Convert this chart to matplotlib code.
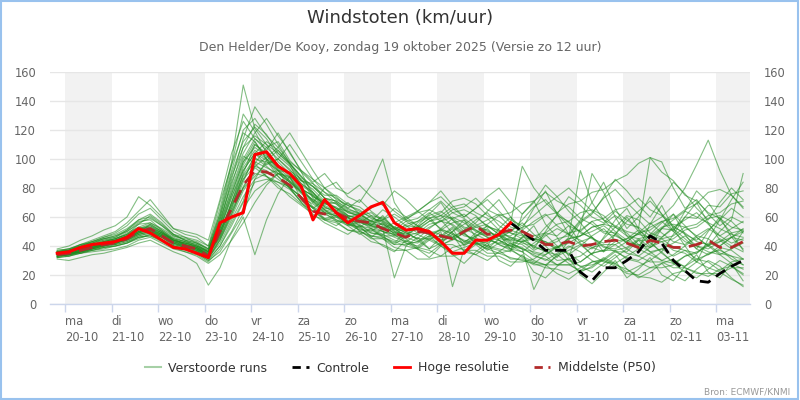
import matplotlib
matplotlib.use('Agg')
import matplotlib.pyplot as plt
import numpy as np
from matplotlib.lines import Line2D
from matplotlib.patches import Rectangle

plt.rcParams['font.family'] = ['DejaVu Sans']

# ---------------- data ----------------
day_labels = ['ma\n20-10', 'di\n21-10', 'wo\n22-10', 'do\n23-10', 'vr\n24-10',
              'za\n25-10', 'zo\n26-10', 'ma\n27-10', 'di\n28-10', 'wo\n29-10',
              'do\n30-10', 'vr\n31-10', 'za\n01-11', 'zo\n02-11', 'ma\n03-11']
first_time = -0.167   # days after 20-10 00:00 of the first value
time_step = 0.25      # 6-hourly

hires = [35, 36, 39, 41, 42, 43, 46, 52, 49, 44,
         39, 38, 35, 32, 56, 60, 63, 103, 105, 95,
         90, 81, 58, 72, 63, 56, 61, 67, 70, 56,
         51, 52, 50, 43, 35, 35, 44, 44, 48, 56]

control = [56, 50, 44, 37, 37, 37, 22, 16, 25, 25,
           30, 36, 47, 42, 30, 23, 16, 15, 21, 26, 30]   # starts at step 39

p50 = [34, 35, 37, 39, 41, 42, 45, 50, 52, 47,
       42, 40, 38, 33, 50, 66, 82, 92, 91, 87,
       82, 73, 64, 62, 63, 59, 57, 56, 52, 49,
       46, 50, 49, 47, 45, 50, 54, 48, 49, 51,
       50, 46, 41, 41, 43, 40, 41, 43, 44, 42,
       39, 44, 42, 39, 39, 41, 44, 39, 39, 43]

m01 = [36,37,41,42,45,46,51,57,58,51, 45,43,39,35,58,82,108,124,117,104,
       96,80,71,65,63,59,58,54,61,52, 47,56,60,51,46,51,58,63,54,49,
       47,44,53,61,57,49,46,39,38,43, 49,56,49,43,41,47,52,47,42,45]
m02 = [33,34,36,38,40,41,43,47,49,46, 40,38,36,31,40,56,71,97,108,112,
       99,91,74,69,70,63,61,63,57,50, 43,42,47,51,56,58,51,46,41,38,
       36,30,27,33,37,41,34,29,28,33, 38,43,35,29,26,31,34,38,31,27]
m03 = [35,36,38,40,43,45,48,55,61,55, 48,44,40,36,63,96,131,119,104,93,
       85,77,72,65,60,57,52,49,48,44, 42,40,46,52,59,62,55,50,47,44,
       51,57,62,54,48,41,38,45,53,61, 58,49,46,53,58,63,55,47,52,57]
m04 = [34,35,37,39,41,43,46,49,51,48, 43,41,39,34,47,70,89,101,95,88,
       80,70,61,58,56,51,50,47,46,43, 40,38,35,41,44,49,42,38,35,32,
       30,28,25,24,21,25,29,30,26,21, 20,25,28,31,25,22,19,24,26,21]
m05 = [32,33,35,37,38,40,42,45,48,44, 40,37,35,30,36,49,62,86,99,106,
       97,88,81,73,71,66,62,57,65,60, 54,53,48,46,45,42,49,54,50,46,
       42,40,47,52,48,44,39,36,41,45, 48,53,57,50,43,40,38,43,46,50]
m06 = [37,38,40,43,46,49,54,62,66,58, 50,46,42,38,66,98,151,121,110,98,
       90,80,70,64,62,58,56,61,54,50, 48,52,57,61,54,48,44,42,47,50,
       58,67,72,63,56,50,45,42,48,57, 64,71,62,54,48,44,51,58,66,60]
m07 = [36,37,39,41,42,44,47,52,55,50, 44,42,40,37,55,86,114,136,124,110,
       97,88,77,70,66,61,58,54,50,48, 53,57,61,64,58,52,48,44,42,46,
       44,40,36,34,39,43,46,40,36,32, 30,35,38,42,47,40,36,34,38,42]
m08 = [33,35,37,39,40,42,44,48,50,47, 42,39,36,32,45,62,81,95,101,108,
       118,105,92,80,72,68,64,60,56,52, 50,48,53,57,60,56,50,46,44,40,
       38,36,34,39,42,47,50,54,48,42, 38,34,30,28,33,36,40,45,40,36]
m09 = [35,36,38,41,43,45,48,52,54,50, 45,43,41,36,52,73,96,110,104,96,
       88,80,74,70,66,64,62,66,71,64, 58,54,50,48,46,50,54,58,62,58,
       54,61,68,74,80,72,64,58,54,50, 48,46,52,58,64,60,56,52,48,46]
m10 = [34,35,36,38,40,42,45,50,52,48, 44,42,40,36,50,68,86,95,92,86,
       80,74,66,62,58,56,54,52,50,48, 46,43,47,40,36,39,42,45,41,37,
       33,29,27,21,17,23,25,31,27,24, 19,18,15,21,23,29,25,22,17,13]
m11 = [36,38,41,44,47,50,56,64,72,62, 52,48,46,40,70,96,118,112,100,95,
       90,85,83,77,73,68,65,59,57,53, 59,63,65,71,63,59,53,51,45,44,
       43,47,49,55,57,63,65,61,53,49, 41,39,43,45,51,53,59,61,57,49]
m12 = [33,34,36,38,39,40,42,46,48,44, 40,38,36,32,42,58,74,86,90,92,
       91,83,77,67,63,57,55,49,47,41, 41,43,49,51,49,43,41,35,35,37,
       43,45,43,37,35,29,35,37,43,45, 51,45,43,37,35,29,35,37,33,31]
m13 = [35,37,40,42,44,46,50,55,56,52, 47,45,43,38,56,78,100,114,108,100,
       93,83,77,67,63,55,51,45,45,41, 47,49,55,57,63,65,61,53,51,45,
       43,37,41,43,49,51,57,59,65,67, 73,65,61,53,49,43,41,43,49,51]
m14 = [34,35,37,39,41,42,44,47,49,46, 42,40,38,33,46,64,84,104,112,106,
       97,85,79,71,69,63,61,55,53,47, 45,39,37,33,33,35,41,43,49,43,
       41,35,33,27,27,29,35,37,37,31, 29,25,25,27,33,35,41,35,33,27]
m15 = [32,33,35,36,37,38,40,44,46,42, 38,36,33,28,34,44,56,70,82,90,
       87,79,75,69,67,61,59,54,53,49, 49,45,45,41,41,37,37,33,33,29,
       29,31,37,39,45,47,53,55,61,55, 53,47,45,39,37,31,29,23,29,31]
m16 = [36,37,39,42,45,47,51,58,62,56, 48,44,42,38,60,90,112,122,114,102,
       95,85,81,75,75,69,67,61,59,53, 51,51,57,59,65,67,73,65,61,53,
       51,45,43,39,45,47,53,55,53,47, 45,39,45,47,53,55,61,63,69,71]
m17 = [35,36,38,40,42,44,47,52,53,49, 44,42,40,35,50,68,88,98,94,90,
       84,78,72,68,64,60,56,54,52,56, 60,64,58,52,48,44,42,40,38,36,
       62,71,55,46,33,52,90,77,60,47, 38,55,68,52,40,29,45,58,49,37]
m18 = [34,36,38,40,42,44,46,50,52,49, 44,41,39,34,54,76,98,108,102,94,
       87,77,71,63,61,57,57,53,53,49, 55,57,63,57,55,49,53,55,61,63,
       69,71,77,71,67,59,55,49,47,43, 49,51,57,59,65,69,77,79,75,67]
m19 = [33,34,36,38,40,42,44,48,50,46, 41,39,37,32,44,60,78,90,88,84,
       79,71,67,59,57,51,49,43,41,37, 37,39,45,47,53,47,45,39,37,31,
       31,27,27,27,31,33,39,41,41,35, 33,29,29,25,25,21,21,21,25,25]
m20 = [37,38,41,43,46,48,52,58,60,54, 47,44,42,37,58,84,104,118,128,116,
       105,91,83,73,69,61,59,55,55,51, 57,59,65,61,59,53,51,47,47,47,
       53,55,61,63,69,71,77,79,85,89, 97,101,91,85,75,71,63,59,53,51]
m21 = [35,36,38,40,42,43,46,50,51,48, 43,40,38,34,48,66,86,100,98,92,
       85,79,75,66,65,60,62,57,58,52, 54,49,50,44,46,41,43,37,42,40,
       46,44,49,47,54,50,57,50,49,42, 41,36,38,33,37,35,42,40,46,44]
m22 = [34,35,37,39,41,43,45,49,51,47, 42,40,38,33,50,70,94,106,100,92,
       84,77,67,63,57,56,51,51,47,47, 51,53,59,61,67,69,63,59,51,49,
       45,39,37,30,31,26,27,30,36,36, 44,44,52,51,60,59,68,67,76,78]
m23 = [33,34,36,37,39,41,43,46,47,44, 40,38,35,30,40,54,70,84,86,84,
       81,73,69,63,61,55,53,47,45,39, 37,31,31,33,39,41,47,49,47,41,
       39,33,31,27,27,23,29,31,37,39, 45,47,53,55,53,47,45,39,37,31]
m24 = [36,37,39,41,43,45,48,53,56,51, 46,43,41,36,60,88,108,116,110,104,
       97,87,81,73,71,65,63,57,55,51, 51,53,59,63,71,73,69,61,57,51,
       48,44,41,45,47,57,63,73,79,70, 62,55,60,68,80,96,113,92,75,66]
m25 = [31,30,32,34,35,37,39,42,44,40, 36,33,28,13,25,45,60,34,58,76,
       88,72,66,58,54,60,50,46,52,18, 40,46,38,42,48,36,34,40,44,38,
       32,28,34,40,30,26,22,28,34,24, 18,22,28,20,16,24,30,26,18,12]
m26 = [38,40,44,47,51,54,60,74,68,60, 52,50,48,44,72,104,126,114,106,118,
       104,92,86,80,84,74,70,82,100,70, 58,64,70,74,66,60,66,72,64,56,
       95,80,70,62,74,68,60,56,64,58, 52,101,98,80,66,72,62,54,60,56]
m27 = [35,34,37,40,41,44,47,51,53,49, 45,41,37,33,54,80,102,97,88,80,
       76,69,64,59,61,55,53,58,50,46, 43,48,44,40,45,49,42,38,45,50,
       56,48,42,38,46,92,70,58,50,44, 40,48,56,62,54,46,40,50,58,90]
m28 = [33,36,35,38,42,41,46,50,52,48, 43,40,38,35,46,64,80,88,97,100,
       92,86,73,65,58,54,57,52,48,53, 49,45,52,58,49,43,47,52,44,40,
       36,42,48,40,34,40,47,52,44,38, 33,39,46,52,45,38,34,40,46,52]
m29 = [34,33,36,39,40,43,45,49,55,50, 44,41,39,36,52,74,92,104,96,100,
       110,98,86,77,70,64,60,55,58,62, 57,52,48,44,50,55,60,54,48,42,
       38,34,30,35,40,36,30,26,32,38, 44,36,30,34,40,46,40,34,28,24]
m30 = [36,35,39,41,44,45,49,53,50,46, 41,39,37,34,48,66,90,110,103,92,
       80,74,66,72,66,60,54,50,56,48, 42,38,44,50,12,38,34,30,36,42,
       38,10,26,34,28,22,26,32,28,22, 26,30,36,28,22,18,24,30,26,20]
m31 = [34,36,38,40,43,44,47,51,54,49, 44,42,39,34,52,76,98,112,100,90,
       84,76,70,80,74,66,72,64,58,66, 60,54,62,70,58,50,56,64,72,60,
       52,66,78,62,48,58,70,84,66,52, 60,74,62,50,64,78,70,58,72,84]
m32 = [33,35,36,39,41,42,45,49,51,47, 42,39,37,31,44,62,80,94,88,82,
       74,68,62,56,52,48,54,46,40,36, 44,38,32,40,34,28,36,42,30,26,
       34,22,18,26,32,20,14,22,30,18, 24,32,20,16,26,34,22,18,28,16]
m33 = [36,37,40,43,45,47,50,56,59,54, 48,46,44,40,62,92,120,128,116,108,
       98,92,84,90,80,76,82,74,68,78, 72,64,70,78,68,60,66,74,80,70,
       62,70,82,74,64,56,62,74,86,78, 68,60,72,84,76,66,58,70,80,72]
m34 = [35,36,37,39,42,43,45,48,50,47, 43,41,38,33,49,70,92,104,99,88,
       80,70,64,58,60,54,48,52,46,42, 50,44,38,46,52,40,46,54,48,38,
       46,54,40,32,44,56,46,36,48,60, 50,40,52,62,48,38,50,60,46,38]
m35 = [32,34,35,37,39,40,42,46,47,43, 39,36,34,29,38,50,66,78,84,90,
       88,82,76,70,64,70,62,56,60,52, 46,54,48,42,50,58,46,40,52,60,
       48,38,50,62,54,42,34,46,58,66, 52,42,36,48,60,70,56,44,38,50]

members = [m01, m02, m03, m04, m05, m06, m07, m08, m09, m10,
           m11, m12, m13, m14, m15, m16, m17, m18, m19, m20,
           m21, m22, m23, m24, m25, m26, m27, m28, m29, m30,
           m31, m32, m33, m34, m35]

y_ticks = [0, 20, 40, 60, 80, 100, 120, 140, 160]

# ---------------- figure ----------------
fig = plt.figure(figsize=(8, 4), dpi=100)
fig.patch.set_facecolor('white')
ax = fig.add_axes([50/800, 96/400, 700/800, 232/400])

px_per_day = 46.5
ax.set_xlim(-15/px_per_day, 685/px_per_day)
ax.set_ylim(0, 160)

# alternating day shading
for d in range(0, len(day_labels), 2):
    ax.axvspan(d, d + 1, color='#f2f2f2', lw=0, zorder=0)

times = first_time + time_step * np.arange(len(p50))

for m in members:
    ax.plot(times[:len(m)], m, color='#1e8a1e', alpha=0.55, lw=0.8, zorder=2)

ax.plot(times[len(hires)-1:len(hires)-1+len(control)], control, color='black',
        lw=2, dashes=(4, 2.5), zorder=4)
ax.plot(times, p50, color='#b22a2a', lw=2, dashes=(5, 3), zorder=4)
ax.plot(times[:len(hires)], hires, color='#ff0000', lw=2.2, zorder=5)

# grid / axes styling
ax.set_yticks(y_ticks)
ax.yaxis.grid(True, color='#e6e6e6', lw=1)
ax.set_axisbelow(True)
for s in ['top', 'left', 'right']:
    ax.spines[s].set_visible(False)
ax.spines['bottom'].set_color('#ccd6eb')
ax.spines['bottom'].set_linewidth(1)

ax.set_xticks(range(len(day_labels)))
ax.set_xticklabels(day_labels, ha='left', multialignment='left', linespacing=1.25)
ax.tick_params(axis='x', colors='#ccd6eb', length=6, width=1, pad=2,
               labelcolor='#666666', labelsize=8.3)
ax.tick_params(axis='y', length=0, labelcolor='#666666', labelsize=8.3,
               labelleft=True, labelright=True, pad=10)

# titles
fig.text(0.5, 1 - 18/400, 'Windstoten (km/uur)', ha='center', va='center',
         fontsize=13, color='#333333')
fig.text(0.5, 1 - 47/400, 'Den Helder/De Kooy, zondag 19 oktober 2025 (Versie zo 12 uur)',
         ha='center', va='center', fontsize=9, color='#666666')

# legend
handles = [Line2D([], [], color='#228B22', alpha=0.4, lw=1.5),
           Line2D([], [], color='black', lw=2, dashes=(3, 2)),
           Line2D([], [], color='#ff0000', lw=2),
           Line2D([], [], color='#b22a2a', lw=2, dashes=(3, 2))]
labels = ['Verstoorde runs', 'Controle', 'Hoge resolutie', 'Middelste (P50)']
fig.legend(handles, labels, loc='center', bbox_to_anchor=(0.5, 1 - 368/400),
           ncol=4, frameon=False, fontsize=9, handlelength=1.3,
           columnspacing=2.0, handletextpad=0.6, labelcolor='#333333')

fig.text(1 - 10/800, 1 - 392/400, 'Bron: ECMWF/KNMI', ha='right', va='center',
         fontsize=6.5, color='#999999')

fig.patches.append(Rectangle((0.001, 0.002), 0.997, 0.995, transform=fig.transFigure,
                             fill=False, edgecolor='#99c2ee', lw=1.5))

fig.savefig('out.png', dpi=100)
